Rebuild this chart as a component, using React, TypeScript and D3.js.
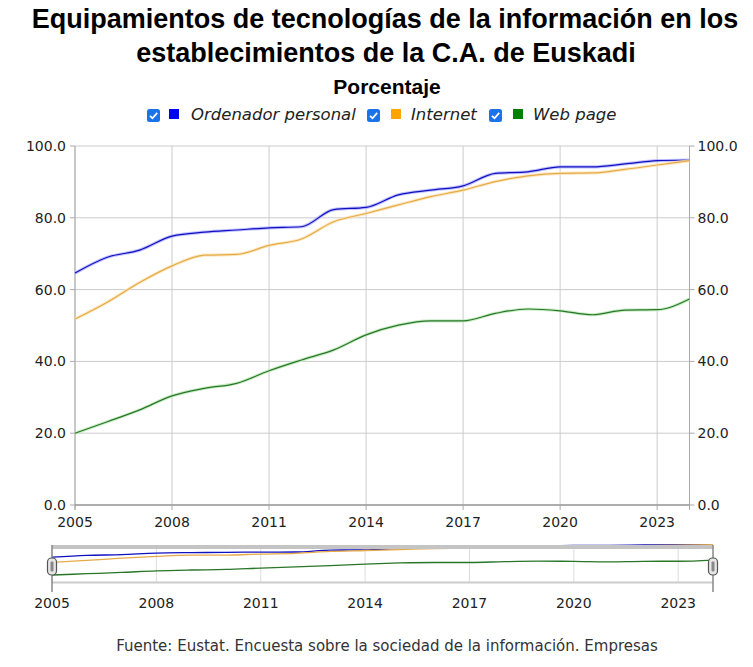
import React from 'react';
import * as d3 from 'd3';

const years = d3.range(2005, 2025);
const ordenador = [64.6, 69.0, 71.0, 74.9, 76.0, 76.6, 77.2, 77.5, 82.3, 82.9, 86.4, 87.7, 88.9, 92.4, 92.8, 94.2, 94.2, 95.0, 95.9, 96.1];
const internet = [51.8, 56.5, 62.0, 66.6, 69.6, 69.8, 72.3, 74.1, 78.9, 81.2, 83.6, 85.9, 87.7, 90.1, 91.7, 92.4, 92.5, 93.5, 94.7, 95.9];
const webPage = [20.0, 23.2, 26.5, 30.4, 32.5, 33.9, 37.4, 40.4, 43.2, 47.4, 50.1, 51.3, 51.3, 53.4, 54.6, 54.1, 53.0, 54.3, 54.4, 57.4];
const xTicks = [2005, 2008, 2011, 2014, 2017, 2020, 2023];
const yTicks = [0, 20, 40, 60, 80, 100];

const series = [
  { name: 'Ordenador personal', values: ordenador, color: '#1010c0', halo: '#b0b0ff', swatch: '#0000ee' },
  { name: 'Internet', values: internet, color: '#e6aa48', halo: '#fbe2b0', swatch: '#ffa500' },
  { name: 'Web page', values: webPage, color: '#287628', halo: '#bce8b6', swatch: '#008000' },
];

const W = 753;
const H = 667;
const font = 'Verdana, "DejaVu Sans", sans-serif';
const titleFont = 'Arial, "Liberation Sans", sans-serif';

const x = d3.scaleLinear().domain([2005, 2024]).range([75, 689.5]);
const y = d3.scaleLinear().domain([0, 100]).range([505, 146]);
const nx = d3.scaleLinear().domain([2005, 2024]).range([52, 713]);
const ny = d3.scaleLinear().domain([0, 100]).range([583, 543]);

const line = (vals: number[], xs: d3.ScaleLinear<number, number>, ys: d3.ScaleLinear<number, number>) =>
  d3.line<number>()
    .x((_, i) => xs(years[i]))
    .y(d => ys(d))
    .curve(d3.curveMonotoneX)(vals) || '';

const legendItems = [
  { box: 147, sq: 169, tx: 191 },
  { box: 367, sq: 391, tx: 411 },
  { box: 489, sq: 513, tx: 533 },
];

const Check: React.FC<{ x0: number; y0: number }> = ({ x0, y0 }) => (
  <g transform={`translate(${x0},${y0})`}>
    <rect width={13} height={13} rx={2.5} fill="#1a73e8" />
    <path d="M3 6.8 L5.5 9.3 L10.2 3.9" fill="none" stroke="#fff" strokeWidth={1.8} />
  </g>
);

const App: React.FC = () => {
  return (
    <svg width={W} height={H} style={{ position: 'absolute', left: 0, top: 0, background: '#fff' }}>
      {/* titles */}
      <text x={385} y={28} textAnchor="middle" fontFamily={titleFont} fontWeight="bold" fontSize={27} fill="#000">
        Equipamientos de tecnologías de la información en los
      </text>
      <text x={386} y={62} textAnchor="middle" fontFamily={titleFont} fontWeight="bold" fontSize={27} fill="#000">
        establecimientos de la C.A. de Euskadi
      </text>
      <text x={387} y={94} textAnchor="middle" fontFamily={titleFont} fontWeight="bold" fontSize={21} fill="#000">
        Porcentaje
      </text>

      {/* legend */}
      {series.map((s, i) => (
        <g key={s.name}>
          <Check x0={legendItems[i].box} y0={109} />
          <rect x={legendItems[i].sq} y={109} width={10} height={10} fill={s.swatch} />
          <text x={legendItems[i].tx} y={120} fontFamily={font} fontStyle="italic" fontSize={16.5} fill="#222">{s.name}</text>
        </g>
      ))}

      {/* grid */}
      {yTicks.map(t => (
        <line key={'gy' + t} x1={x.range()[0]} x2={x.range()[1]} y1={y(t)} y2={y(t)} stroke="#cccccc" />
      ))}
      {xTicks.map(t => (
        <line key={'gx' + t} x1={x(t)} x2={x(t)} y1={y(100)} y2={y(0)} stroke="#cccccc" />
      ))}
      <line x1={x(2005)} x2={x(2005)} y1={y(100)} y2={y(0) + 5} stroke="#aaaaaa" />
      <line x1={x(2024)} x2={x(2024)} y1={y(100)} y2={y(0) + 5} stroke="#aaaaaa" />
      <line x1={x(2005)} x2={x(2024)} y1={y(0)} y2={y(0)} stroke="#777777" />

      {/* axes */}
      {yTicks.map(t => (
        <g key={'ly' + t}>
          <line x1={x(2005) - 5} x2={x(2005)} y1={y(t)} y2={y(t)} stroke="#aaaaaa" />
          <text x={x(2005) - 9} y={y(t) + 5} textAnchor="end" fontFamily={font} fontSize={14} fill="#222">{t.toFixed(1)}</text>
          <line x1={x(2024)} x2={x(2024) + 5} y1={y(t)} y2={y(t)} stroke="#aaaaaa" />
          <text x={x(2024) + 8} y={y(t) + 5} textAnchor="start" fontFamily={font} fontSize={14} fill="#222">{t.toFixed(1)}</text>
        </g>
      ))}
      {xTicks.map(t => (
        <g key={'lx' + t}>
          <line x1={x(t)} x2={x(t)} y1={y(0)} y2={y(0) + 5} stroke="#aaaaaa" />
          <text x={x(t)} y={y(0) + 22} textAnchor="middle" fontFamily={font} fontSize={14} fill="#222">{t}</text>
        </g>
      ))}

      {/* series */}
      {series.map(s => (
        <g key={'s' + s.name}>
          <path d={line(s.values, x, y)} fill="none" stroke={s.halo} strokeWidth={3.2} strokeOpacity={0.8} />
          <path d={line(s.values, x, y)} fill="none" stroke={s.color} strokeWidth={1.2} />
        </g>
      ))}

      {/* navigator */}
      {xTicks.map(t => (
        <line key={'nx' + t} x1={nx(t)} x2={nx(t)} y1={545} y2={583} stroke="#dddddd" />
      ))}
      {series.map(s => (
        <path key={'n' + s.name} d={line(s.values, nx, ny)} fill="none" stroke={s.color} strokeWidth={1.3} />
      ))}
      <rect x={nx(2005)} y={545} width={nx(2024) - nx(2005)} height={4} fill="#c4c4c4" />
      <line x1={nx(2005)} x2={nx(2024)} y1={582.5} y2={582.5} stroke="#cccccc" strokeWidth={2} />
      {[2005, 2024].map(t => (
        <g key={'h' + t}>
          <line x1={nx(t)} x2={nx(t)} y1={545} y2={592} stroke="#888888" strokeWidth={1.5} />
          <rect x={nx(t) - 4.5} y={558} width={9} height={17} rx={4} fill="#e6e6e6" stroke="#555555" strokeWidth={1.2} />
          <rect x={nx(t) - 1.5} y={561.5} width={3} height={10} rx={1} fill="#888888" />
        </g>
      ))}
      {xTicks.map(t => (
        <text key={'nl' + t} x={nx(t)} y={608} textAnchor="middle" fontFamily={font} fontSize={14} fill="#222">{t}</text>
      ))}

      {/* footer */}
      <text x={387} y={651} textAnchor="middle" fontFamily={font} fontSize={15} fill="#333">
        Fuente: Eustat. Encuesta sobre la sociedad de la información. Empresas
      </text>
    </svg>
  );
};

export default App;
